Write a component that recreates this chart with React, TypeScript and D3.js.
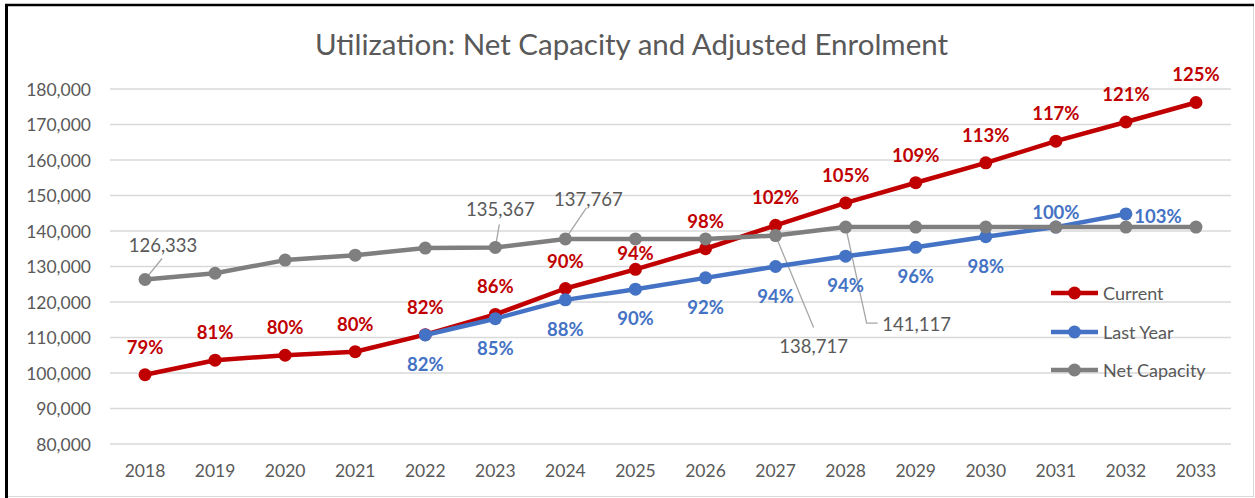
import React from 'react';
import * as d3 from 'd3';

const years = ['2018','2019','2020','2021','2022','2023','2024','2025','2026','2027','2028','2029','2030','2031','2032','2033'];
const currentValues = [99500, 103600, 105000, 106000, 110800, 116500, 123800, 129200, 135000, 141600, 147900, 153600, 159200, 165300, 170700, 176200];
const lastYearValues: (number | null)[] = [null, null, null, null, 110700, 115300, 120600, 123600, 126800, 130000, 132900, 135400, 138400, 141100, 144800, null];
const netCapacityValues = [126333, 128100, 131800, 133200, 135200, 135367, 137767, 137767, 137767, 138717, 141117, 141117, 141117, 141117, 141117, 141117];
const currentPctLabels = ['79%','81%','80%','80%','82%','86%','90%','94%','98%','102%','105%','109%','113%','117%','121%','125%'];
const lastYearPctLabels: (string | null)[] = [null, null, null, null, '82%','85%','88%','90%','92%','94%','94%','96%','98%','100%','103%', null];
const netCapacityLabelYears = ['2018','2023','2024','2027','2028'];
const yTicks = [80000, 90000, 100000, 110000, 120000, 130000, 140000, 150000, 160000, 170000, 180000];
const legendNames = ['Current', 'Last Year', 'Net Capacity'];
const titleText = 'Utilization: Net Capacity and Adjusted Enrolment';

// ---- layout / style (not data) ----
const W = 1255, H = 498;
const plot = { left: 110, right: 1231, top: 89, bottom: 444 };
const FONT = 'Lato, "Open Sans", sans-serif';
const RED = '#C00000', BLUE = '#4472C4', GRAY = '#7F7F7F', TEXT = '#595959', GRID = '#D9D9D9', LEADER = '#A6A6A6';
const currentLabelOffset = (yr: string) => (yr === '2025' ? { dx: 0, dy: -16 } : { dx: 0, dy: -28 });
const lastYearLabelOffset = (yr: string) =>
  yr === '2031' ? { dx: 0, dy: -15 } : yr === '2032' ? { dx: 32, dy: 2 } : { dx: 0, dy: 29 };
const grayLabelLayout: Record<string, { lx: number; ly: number; leader: [number, number][] }> = {
  '2018': { lx: 18, ly: -35, leader: [[0, 0], [17, -21]] },
  '2023': { lx: 5, ly: -38, leader: [[0, 0], [4, -23]] },
  '2024': { lx: 23, ly: -40, leader: [[0, 0], [21, -31]] },
  '2027': { lx: 38, ly: 110, leader: [[0, 0], [38, 92]] },
  '2028': { lx: 71, ly: 97, leader: [[0, 0], [21, 96], [32, 96]] },
};

export default function App() {
  const x = d3.scaleBand<string>().domain(years).range([plot.left, plot.right]).padding(0);
  const cx = (yr: string) => (x(yr) as number) + x.bandwidth() / 2;
  const y = d3.scaleLinear().domain([80000, 180000]).range([plot.bottom, plot.top]);
  const fmt = d3.format(',');

  type P = { yr: string; v: number | null };
  const mk = (vals: (number | null)[]): P[] => years.map((yr, i) => ({ yr, v: vals[i] }));
  const line = d3
    .line<P>()
    .defined((d) => d.v != null)
    .x((d) => cx(d.yr))
    .y((d) => y(d.v as number));

  const series = [
    { name: legendNames[0], color: RED, pts: mk(currentValues) },
    { name: legendNames[1], color: BLUE, pts: mk(lastYearValues) },
    { name: legendNames[2], color: GRAY, pts: mk(netCapacityValues) },
  ];

  const lineW = 4.5, r = 6.5;
  const legendY = [293, 332, 370];

  return (
    <svg
      width={W}
      height={H}
      style={{ position: 'absolute', left: 0, top: 0, background: '#fff' }}
      fontFamily={FONT}
    >
      <rect x={0} y={0} width={W} height={H} fill="#fff" />
      {/* frame */}
      <line x1={1253.5} y1={5} x2={1253.5} y2={497} stroke={GRID} strokeWidth={1} />
      <line x1={6} y1={496.5} x2={1254} y2={496.5} stroke={GRID} strokeWidth={1} />
      <line x1={5} y1={5} x2={1254} y2={5} stroke="#000" strokeWidth={2.5} />
      <line x1={6.5} y1={4} x2={6.5} y2={498} stroke="#000" strokeWidth={3} />

      {/* title */}
      <text x={631.5} y={43} textAnchor="middle" dominantBaseline="central" fontSize={29.5} fill={TEXT}>
        {titleText}
      </text>

      {/* gridlines */}
      {yTicks.map((t) => (
        <line key={t} x1={plot.left} x2={plot.right} y1={y(t)} y2={y(t)} stroke={GRID} strokeWidth={1.3} />
      ))}
      {/* y labels */}
      {yTicks.map((t) => (
        <text key={'yl' + t} x={91} y={y(t)} textAnchor="end" dominantBaseline="central" fontSize={17.5} fill={TEXT}>
          {fmt(t)}
        </text>
      ))}
      {/* x labels */}
      {years.map((yr) => (
        <text key={'xl' + yr} x={cx(yr)} y={470} textAnchor="middle" dominantBaseline="central" fontSize={17.5} fill={TEXT}>
          {yr}
        </text>
      ))}

      {/* leader lines for net capacity labels */}
      {netCapacityLabelYears.map((yr) => {
        const i = years.indexOf(yr);
        const px = cx(yr), py = y(netCapacityValues[i]);
        const L = grayLabelLayout[yr];
        const pts = L.leader.map(([dx, dy]) => [px + dx, py + dy] as [number, number]);
        return <path key={'ld' + yr} d={d3.line()(pts) as string} fill="none" stroke={LEADER} strokeWidth={1.3} />;
      })}

      {/* series */}
      {series.map((s) => (
        <g key={s.name}>
          <path d={line(s.pts) as string} fill="none" stroke={s.color} strokeWidth={lineW} strokeLinejoin="round" />
          {s.pts
            .filter((p) => p.v != null)
            .map((p) => (
              <circle key={p.yr} cx={cx(p.yr)} cy={y(p.v as number)} r={r} fill={s.color} />
            ))}
        </g>
      ))}

      {/* current % labels */}
      {years.map((yr, i) => {
        const o = currentLabelOffset(yr);
        return (
          <text key={'cl' + yr} x={cx(yr) + o.dx} y={y(currentValues[i]) + o.dy} textAnchor="middle" dominantBaseline="central"
            fontSize={18.5} fontWeight="bold" fill={RED}>
            {currentPctLabels[i]}
          </text>
        );
      })}
      {/* last year % labels */}
      {years.map((yr, i) => {
        const v = lastYearValues[i];
        const lab = lastYearPctLabels[i];
        if (v == null || lab == null) return null;
        const o = lastYearLabelOffset(yr);
        return (
          <text key={'ll' + yr} x={cx(yr) + o.dx} y={y(v) + o.dy} textAnchor="middle" dominantBaseline="central"
            fontSize={18.5} fontWeight="bold" fill={BLUE}>
            {lab}
          </text>
        );
      })}
      {/* net capacity value labels */}
      {netCapacityLabelYears.map((yr) => {
        const i = years.indexOf(yr);
        const L = grayLabelLayout[yr];
        return (
          <text key={'gl' + yr} x={cx(yr) + L.lx} y={y(netCapacityValues[i]) + L.ly} textAnchor="middle" dominantBaseline="central"
            fontSize={18.5} fill={TEXT}>
            {fmt(netCapacityValues[i])}
          </text>
        );
      })}

      {/* legend */}
      {series.map((s, k) => (
        <g key={'lg' + s.name}>
          <line x1={1051} x2={1098} y1={legendY[k]} y2={legendY[k]} stroke={s.color} strokeWidth={lineW} />
          <circle cx={1074.5} cy={legendY[k]} r={r} fill={s.color} />
          <text x={1103} y={legendY[k]} dominantBaseline="central" fontSize={18} fill={TEXT}>
            {s.name}
          </text>
        </g>
      ))}
    </svg>
  );
}
